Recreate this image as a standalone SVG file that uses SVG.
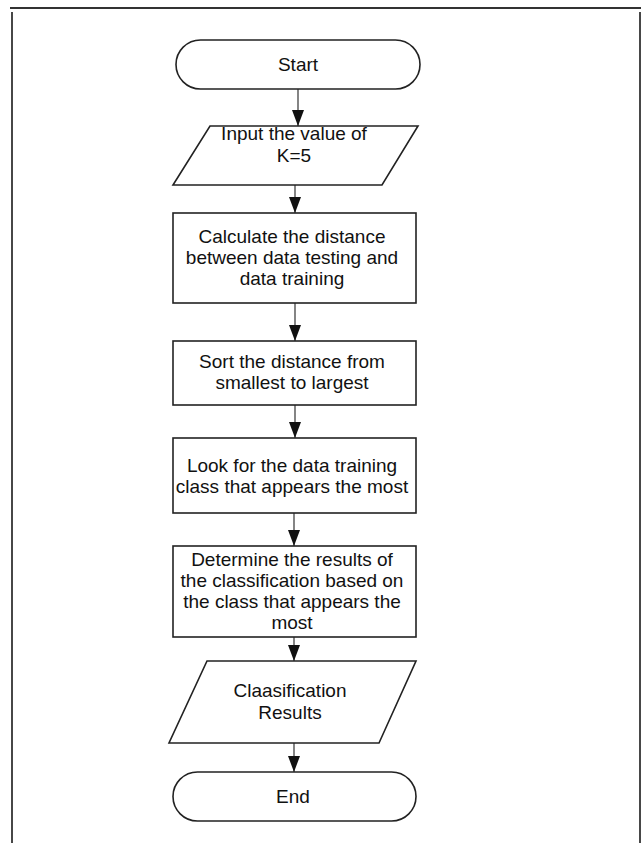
<svg xmlns="http://www.w3.org/2000/svg" width="643" height="843" viewBox="0 0 643 843">
<style>
.shape{fill:#fff;stroke:#222;stroke-width:1.6}
.lbl{font-family:"Liberation Sans",Arial,sans-serif;font-size:19px;fill:#111;text-anchor:middle}
.edge{stroke:#333;stroke-width:1.2;fill:none}
.frame{stroke:#333;stroke-width:1.8;fill:none}
</style>
<defs>
<marker id="ah" markerUnits="userSpaceOnUse" markerWidth="16" markerHeight="12" refX="16" refY="6" orient="auto" viewBox="0 0 16 12">
<path d="M0,0 L16,6 L0,12 z" fill="#111"/>
</marker>
</defs>
<rect width="643" height="843" fill="#fff"/>
<g id="frame">
<line class="frame" x1="10" y1="8" x2="641" y2="8"/>
<line class="frame" x1="12" y1="12" x2="12" y2="843"/>
<line class="frame" x1="640" y1="12" x2="640" y2="843"/>
</g>
<g id="connectors">
<line class="edge" x1="298" y1="89" x2="298" y2="126" marker-end="url(#ah)"/>
<line class="edge" x1="295" y1="185" x2="295" y2="213" marker-end="url(#ah)"/>
<line class="edge" x1="295" y1="303" x2="295" y2="341" marker-end="url(#ah)"/>
<line class="edge" x1="295" y1="405" x2="295" y2="438" marker-end="url(#ah)"/>
<line class="edge" x1="294" y1="513" x2="294" y2="546" marker-end="url(#ah)"/>
<line class="edge" x1="294" y1="637" x2="294" y2="661" marker-end="url(#ah)"/>
<line class="edge" x1="294" y1="743" x2="294" y2="772" marker-end="url(#ah)"/>
</g>
<g id="start">
<rect class="shape" x="176" y="40" width="244" height="49" rx="24.5" ry="24.5"/>
<text class="lbl" x="298" y="71">Start</text>
</g>
<g id="input">
<polygon class="shape" points="210,126 418,126 382,185 173,185"/>
<text class="lbl" x="294" y="140">Input the value of</text>
<text class="lbl" x="294" y="162">K=5</text>
</g>
<g id="calc">
<rect class="shape" x="173" y="213" width="243" height="90"/>
<text class="lbl" x="292" y="243">Calculate the distance</text>
<text class="lbl" x="292" y="264">between data testing and</text>
<text class="lbl" x="292" y="285">data training</text>
</g>
<g id="sort">
<rect class="shape" x="173" y="341" width="243" height="64"/>
<text class="lbl" x="292" y="368">Sort the distance from</text>
<text class="lbl" x="292" y="389">smallest to largest</text>
</g>
<g id="look">
<rect class="shape" x="173" y="438" width="243" height="75"/>
<text class="lbl" x="292" y="472">Look for the data training</text>
<text class="lbl" x="292" y="493">class that appears the most</text>
</g>
<g id="determine">
<rect class="shape" x="173" y="546" width="243" height="91"/>
<text class="lbl" x="292" y="566">Determine the results of</text>
<text class="lbl" x="292" y="587">the classification based on</text>
<text class="lbl" x="292" y="608">the class that appears the</text>
<text class="lbl" x="292" y="629">most</text>
</g>
<g id="results">
<polygon class="shape" points="207,661 416,661 379,743 169,743"/>
<text class="lbl" x="290" y="697">Claasification</text>
<text class="lbl" x="290" y="719">Results</text>
</g>
<g id="end">
<rect class="shape" x="173" y="772" width="243" height="49" rx="24.5" ry="24.5"/>
<text class="lbl" x="293" y="803">End</text>
</g>
</svg>
